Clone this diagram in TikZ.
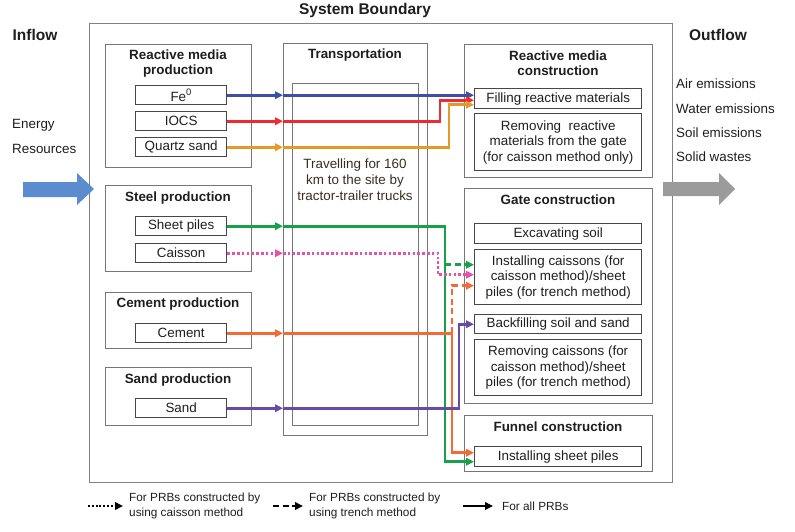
\documentclass[tikz,border=0pt]{standalone}
\usepackage{fontspec}
\setmainfont{Liberation Sans}
\usetikzlibrary{arrows.meta,calc}
\definecolor{boxgray}{HTML}{767676}
\definecolor{itemgray}{HTML}{474747}
\definecolor{outgray}{HTML}{828282}
\definecolor{cblue}{HTML}{3C4FA6}
\definecolor{cred}{HTML}{EE2B2E}
\definecolor{cgold}{HTML}{E49A24}
\definecolor{cgreen}{HTML}{19A04B}
\definecolor{cpink}{HTML}{DF55A8}
\definecolor{corange}{HTML}{F26A36}
\definecolor{cpurple}{HTML}{6A4BA3}
\definecolor{inarrow}{HTML}{5B8CCF}
\definecolor{outarrow}{HTML}{9B9B9B}
\definecolor{txt}{HTML}{1E1E1E}
\tikzset{
  every node/.style={text=txt, inner sep=0pt, font=\fontsize{13.4}{15.5}\selectfont},
  container/.style={draw=boxgray, line width=1.4pt, anchor=north west},
  itembox/.style={draw=itemgray, line width=1.4pt, anchor=north west, minimum width=91pt, minimum height=19pt},
  ritem/.style={draw=itemgray, line width=1.4pt, anchor=north west, minimum width=167pt, align=center},
  boxtitle/.style={font=\bfseries\fontsize{13.4}{15}\selectfont, align=center},
  bigtitle/.style={font=\bfseries\fontsize{15.5}{18}\selectfont},
  plain/.style={anchor=west},
  legendtext/.style={anchor=west, align=left, font=\fontsize{11.8}{15}\selectfont},
  con/.style={line width=2.6pt, -{Triangle[length=8pt,width=7.5pt]}},
  dashline/.style={dash pattern=on 6pt off 3.5pt},
  dotline/.style={dash pattern=on 2.6pt off 2.2pt, line width=2.8pt},
}
\begin{document}
\begin{tikzpicture}[x=1pt,y=-1pt]
\useasboundingbox (0,0) rectangle (795,531);

% outer boundary and flows
\node[draw=outgray, line width=1.4pt, anchor=north west, minimum width=583pt, minimum height=459pt] (sys) at (89,23) {};
\node[bigtitle] (systitle) at (365,10) {System Boundary};
\node[bigtitle] (inflow) at (35,35) {Inflow};
\node[bigtitle] (outflow) at (718,35) {Outflow};
\node[plain] (energy) at (12,125) {Energy};
\node[plain] (resources) at (12,149) {Resources};
\node[plain] (air) at (676,84) {Air emissions};
\node[plain] (water) at (676,109) {Water emissions};
\node[plain] (soil) at (676,133) {Soil emissions};
\node[plain] (solid) at (676,157) {Solid wastes};
\fill[inarrow] (23,182) -- (77,182) -- (77,173) -- (94,189) -- (77,205) -- (77,197) -- (23,197) -- cycle;
\fill[outarrow] (663,182) -- (719,182) -- (719,173) -- (735,189) -- (719,205) -- (719,196) -- (663,196) -- cycle;

% left column
\node[container, minimum width=146pt, minimum height=123pt] (rmp) at (105,44) {};
\node[boxtitle] (rmpt) at (178,64) {Reactive media\\production};
\node[itembox] (fe) at (135,85) {Fe\textsuperscript{0}};
\node[itembox] (iocs) at (135,111) {IOCS};
\node[itembox] (quartz) at (135,137) {Quartz sand};

\node[container, minimum width=146pt, minimum height=86pt] (steel) at (105,185) {};
\node[boxtitle] (steelt) at (178,198) {Steel production};
\node[itembox] (sheet) at (135,216) {Sheet piles};
\node[itembox] (caisson) at (135,243) {Caisson};

\node[container, minimum width=146pt, minimum height=56pt] (cementp) at (105,292) {};
\node[boxtitle] (cementt) at (178,304) {Cement production};
\node[itembox] (cement) at (135,323) {Cement};

\node[container, minimum width=146pt, minimum height=58pt] (sandp) at (105,367) {};
\node[boxtitle] (sandt) at (178,380) {Sand production};
\node[itembox] (sand) at (135,398) {Sand};

% transportation
\node[container, minimum width=144pt, minimum height=392pt] (trans) at (283,43) {};
\node[boxtitle] (transt) at (355,55) {Transportation};
\node[container, minimum width=126pt, minimum height=342pt] (travel) at (292,83) {};
\node[align=center, text=txt!85!brown, font=\fontsize{13.4}{16}\selectfont] (travelt) at (355,180) {Travelling for 160\\km to the site by\\tractor-trailer trucks};

% right column
\node[container, minimum width=188pt, minimum height=133pt] (rmc) at (464,44) {};
\node[boxtitle] (rmct) at (558,63) {Reactive media\\construction};
\node[ritem, minimum height=20pt] (fill) at (474,88) {Filling reactive materials};
\node[ritem, minimum height=57pt] (remr) at (474,113) {Removing~ reactive\\materials from the gate\\(for caisson method only)};

\node[container, minimum width=188pt, minimum height=215pt] (gate) at (464,188) {};
\node[boxtitle] (gatet) at (558,200) {Gate construction};
\node[ritem, minimum height=20pt] (exc) at (474,223) {Excavating soil};
\node[ritem, minimum height=55pt] (inst) at (474,249) {Installing caissons (for\\caisson method)/sheet\\piles (for trench method)};
\node[ritem, minimum height=19pt] (back) at (474,314) {Backfilling soil and sand};
\node[ritem, minimum height=56pt] (remc) at (474,339) {Removing caissons (for\\caisson method)/sheet\\piles (for trench method)};

\node[container, minimum width=188pt, minimum height=56pt] (funnel) at (464,415) {};
\node[boxtitle] (funnelt) at (558,427) {Funnel construction};
\node[ritem, minimum height=20pt] (isp) at (474,446) {Installing sheet piles};

% bend columns and entry points
\coordinate (xr) at (440,0);
\coordinate (xq) at (449,0);
\coordinate (xp) at (438,0);
\coordinate (xg) at (445,0);
\coordinate (xo) at (452,0);
\coordinate (xu) at (459,0);
\coordinate (fillR) at ($(fill.west)+(0,1.5)$);
\coordinate (fillQ) at ($(fill.west)+(0,6)$);
\coordinate (instG) at ($(inst.west)+(0,-12.5)$);
\coordinate (instP) at ($(inst.west)+(0,-2.5)$);
\coordinate (instO) at ($(inst.west)+(0,8.5)$);
\coordinate (ispG) at ($(isp.west)+(0,5)$);
\coordinate (ispO) at ($(isp.west)+(0,-4)$);

% connectors
\draw[con, cblue] (fe.east) -- (fe.east -| trans.west);
\draw[con, cblue] (fe.east -| trans.west) -- (fe.east -| fill.west);

\draw[con, cred] (iocs.east) -- (iocs.east -| trans.west);
\draw[con, cred] (iocs.east -| trans.west) -- (iocs.east -| xr) |- (fillR);

\draw[con, cgold] (quartz.east) -- (quartz.east -| trans.west);
\draw[con, cgold] (quartz.east -| trans.west) -- (quartz.east -| xq) |- (fillQ);

\draw[con, cgreen] (sheet.east) -- (sheet.east -| trans.west);
\draw[con, cgreen] (sheet.east -| trans.west) -- (sheet.east -| xg) |- (ispG);
\draw[con, cgreen, dashline] (xg |- instG) -- (instG);

\draw[con, cpink, dotline] (caisson.east) -- (caisson.east -| trans.west);
\draw[con, cpink, dotline] (caisson.east -| trans.west) -- (caisson.east -| xp) |- (instP);

\draw[con, corange] (cement.east) -- (cement.east -| trans.west);
\draw[con, corange] (cement.east -| trans.west) -- (cement.east -| xo) |- (ispO);
\draw[con, corange, dashline] (cement.east -| xo) |- (instO);

\draw[con, cpurple] (sand.east) -- (sand.east -| trans.west);
\draw[con, cpurple] (sand.east -| trans.west) -- (sand.east -| xu) |- (back.west);

% legend
\coordinate (la) at (88,506);
\coordinate (lb) at (273,506);
\coordinate (lc) at (463,506);
\node[legendtext] (lt1) at (129,506) {For PRBs constructed by\\using caisson method};
\node[legendtext] (lt2) at (309,506) {For PRBs constructed by\\using trench method};
\node[legendtext] (lt3) at (502,506) {For all PRBs};
\draw[con, black, line width=2.2pt, dash pattern=on 2pt off 1.8pt, shorten >=6pt] (la) -- (lt1.west |- la);
\draw[con, black, line width=2.2pt, dashline, shorten >=6pt] (lb) -- (lt2.west |- lb);
\draw[con, black, line width=2.2pt, shorten >=9pt] (lc) -- (lt3.west |- lc);
\end{tikzpicture}
\end{document}
